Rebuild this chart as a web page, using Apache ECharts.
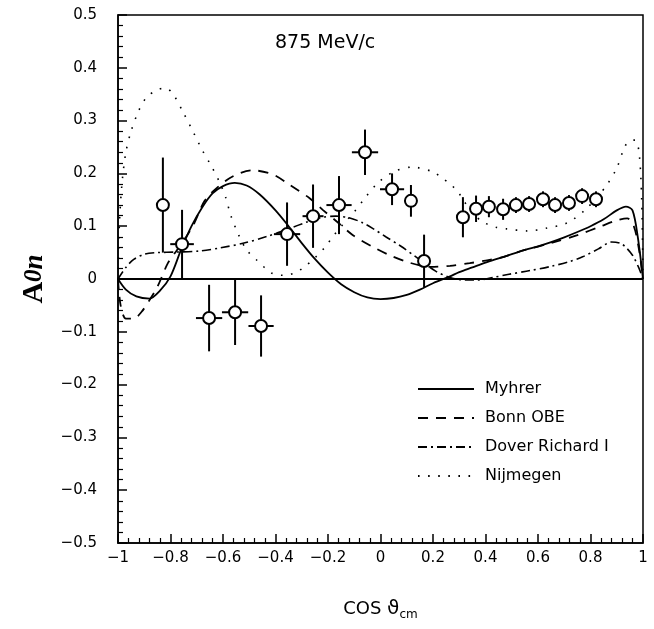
<!DOCTYPE html>
<html><head><meta charset="utf-8">
<script src="https://cdn.jsdelivr.net/npm/echarts@6/dist/echarts.min.js"></script>
<style>html,body{margin:0;padding:0;background:#fff}#c{width:654px;height:629px}</style>
</head><body><div id="c"></div>
<script>
// Measured data points
const dataX    = [-0.829,-0.756,-0.653,-0.554,-0.455,-0.356,-0.257,-0.158,-0.059,0.044,0.116,0.166,0.314,0.364,0.413,0.467,0.516,0.566,0.619,0.665,0.718,0.768,0.821];
const dataY    = [0.140,0.066,-0.074,-0.063,-0.089,0.085,0.119,0.140,0.240,0.170,0.148,0.034,0.117,0.133,0.137,0.132,0.140,0.142,0.151,0.140,0.144,0.157,0.151];
const dataYErr = [0.090,0.065,0.063,0.062,0.058,0.060,0.060,0.055,0.043,0.030,0.030,0.050,0.038,0.025,0.020,0.020,0.015,0.015,0.015,0.015,0.015,0.015,0.015];
const dataXErr = [0,0.045,0.05,0.05,0.048,0.05,0.04,0.048,0.05,0.046,0,0,0,0,0,0,0,0,0,0,0,0,0];

// Theory curves
const myhrerX = [-1,-0.97,-0.93,-0.88,-0.84,-0.80,-0.76,-0.72,-0.68,-0.64,-0.60,-0.555,-0.51,-0.46,-0.40,-0.35,-0.30,-0.25,-0.20,-0.15,-0.10,-0.05,0.0,0.05,0.10,0.15,0.20,0.265,0.30,0.35,0.40,0.45,0.50,0.55,0.60,0.65,0.70,0.75,0.80,0.85,0.90,0.935,0.96,0.98,1.0];
const myhrerY = [0.0,-0.02,-0.033,-0.037,-0.022,0.005,0.055,0.100,0.135,0.162,0.176,0.182,0.177,0.160,0.130,0.100,0.068,0.038,0.012,-0.010,-0.025,-0.035,-0.038,-0.036,-0.030,-0.020,-0.008,0.005,0.013,0.022,0.031,0.039,0.047,0.055,0.062,0.070,0.079,0.089,0.100,0.113,0.130,0.137,0.130,0.080,0.0];

const bonnX = [-1,-0.99,-0.97,-0.94,-0.91,-0.88,-0.85,-0.81,-0.775,-0.74,-0.71,-0.67,-0.62,-0.56,-0.49,-0.41,-0.345,-0.27,-0.22,-0.16,-0.105,-0.03,0.035,0.11,0.19,0.265,0.34,0.40,0.455,0.55,0.65,0.75,0.84,0.90,0.94,0.965,0.985,1.0];
const bonnY = [0.0,-0.05,-0.075,-0.075,-0.062,-0.040,-0.015,0.030,0.055,0.080,0.105,0.148,0.174,0.195,0.206,0.198,0.178,0.153,0.131,0.106,0.083,0.061,0.045,0.031,0.023,0.025,0.030,0.035,0.040,0.055,0.068,0.083,0.100,0.111,0.115,0.100,0.055,0.0];

const doverX = [-1,-0.97,-0.94,-0.90,-0.85,-0.78,-0.69,-0.61,-0.52,-0.43,-0.35,-0.28,-0.22,-0.17,-0.12,-0.07,-0.03,0.02,0.075,0.14,0.21,0.265,0.32,0.37,0.43,0.49,0.57,0.65,0.72,0.77,0.83,0.88,0.92,0.96,0.985,1.0];
const doverY = [0.0,0.022,0.037,0.047,0.050,0.051,0.053,0.059,0.068,0.081,0.095,0.108,0.117,0.119,0.116,0.107,0.096,0.080,0.063,0.040,0.015,0.003,-0.002,-0.002,0.003,0.009,0.016,0.024,0.033,0.042,0.057,0.070,0.066,0.045,0.020,0.0];

const nijX = [-1,-0.995,-0.985,-0.97,-0.95,-0.92,-0.89,-0.85,-0.82,-0.79,-0.75,-0.71,-0.68,-0.64,-0.61,-0.59,-0.57,-0.54,-0.51,-0.47,-0.44,-0.41,-0.37,-0.33,-0.295,-0.25,-0.21,-0.185,-0.14,-0.10,-0.06,-0.01,0.05,0.12,0.20,0.235,0.265,0.295,0.315,0.35,0.39,0.44,0.48,0.56,0.63,0.71,0.78,0.83,0.865,0.90,0.93,0.95,0.97,0.985,0.995,1.0];
const nijY = [0.0,0.10,0.18,0.24,0.28,0.32,0.345,0.358,0.362,0.350,0.314,0.275,0.245,0.210,0.180,0.155,0.120,0.083,0.055,0.035,0.021,0.010,0.007,0.011,0.021,0.040,0.061,0.078,0.105,0.127,0.153,0.182,0.203,0.212,0.203,0.191,0.180,0.165,0.150,0.125,0.108,0.098,0.095,0.091,0.096,0.106,0.131,0.158,0.180,0.210,0.250,0.262,0.263,0.240,0.150,0.0];

const seriesNames = ['Myhrer','Bonn OBE','Dover Richard I','Nijmegen'];
const xTickLabels = ['-1','-0.8','-0.6','-0.4','-0.2','0','0.2','0.4','0.6','0.8','1'];

const FONT = 'DejaVu Sans';
const zip = (a,b) => a.map((v,i)=>[v,b[i]]);
const fmt = v => { const r = +(+v).toFixed(2); return r < 0 ? '\u2212' + Math.abs(r) : String(r); };

const chart = echarts.init(document.getElementById('c'), null, {renderer:'canvas'});
const curveStyle = (type, w) => ({color:'#000', width:w, type:type});
chart.setOption({
  animation:false,
  backgroundColor:'#fff',
  title:{text:'875 MeV/c', left:270, top:29, textStyle:{fontFamily:FONT, fontSize:19, fontWeight:'normal', color:'#000'}},
  legend:{
    orient:'vertical', left:412, top:376, itemWidth:56, itemHeight:14, itemGap:13,
    data:seriesNames,
    itemStyle:{color:'transparent', borderWidth:0, opacity:0},
    textStyle:{fontFamily:FONT, fontSize:16, color:'#000', padding:[0,0,0,6]}
  },
  grid:{left:118, right:11, top:15, bottom:86, show:true, borderColor:'#000', borderWidth:1.5, backgroundColor:'transparent'},
  xAxis:{
    type:'value', min:-1, max:1, interval:0.2,
    axisLine:{onZero:false, lineStyle:{color:'#000', width:1.5}},
    axisTick:{inside:true, length:9, lineStyle:{color:'#000', width:1.5}},
    minorTick:{show:true, splitNumber:5, length:5, lineStyle:{color:'#000', width:1.2}},
    splitLine:{show:false},
    axisLabel:{margin:8, fontFamily:FONT, fontSize:15, color:'#000', formatter:(v)=>fmt(v)},
    name:'{a|COS }{b|\u03D1}{c|cm}', nameLocation:'middle', nameGap:54,
    nameTextStyle:{rich:{
      a:{fontFamily:FONT, fontSize:18, color:'#000'},
      b:{fontFamily:FONT, fontSize:20, color:'#000'},
      c:{fontFamily:FONT, fontSize:12, color:'#000', padding:[12,0,0,0]}
    }}
  },
  yAxis:{
    type:'value', min:-0.5, max:0.5, interval:0.1,
    axisLine:{onZero:false, lineStyle:{color:'#000', width:1.5}},
    axisTick:{inside:true, length:9, lineStyle:{color:'#000', width:1.5}},
    minorTick:{show:true, splitNumber:5, length:5, lineStyle:{color:'#000', width:1.2}},
    splitLine:{show:false},
    axisLabel:{margin:21, fontFamily:FONT, fontSize:15, color:'#000', formatter:(v)=>fmt(v)},
    name:'{a|A}{b|0}{c|n}', nameLocation:'middle', nameGap:66, nameRotate:90,
    nameTextStyle:{rich:{
      a:{fontFamily:'Liberation Serif', fontSize:30, fontWeight:'bold', color:'#000'},
      b:{fontFamily:'Liberation Serif', fontSize:25, fontWeight:'bold', fontStyle:'italic', color:'#000'},
      c:{fontFamily:'Liberation Serif', fontSize:27, fontWeight:'bold', fontStyle:'italic', color:'#000'}
    }}
  },
  series:[
    {name:'Myhrer', type:'line', data:zip(myhrerX,myhrerY), symbol:'none', smooth:0.3, lineStyle:curveStyle('solid',1.8), itemStyle:{color:'#000'}, z:3,
     markLine:{silent:true, symbol:'none', label:{show:false}, lineStyle:{color:'#000', width:2, type:'solid'}, data:[{yAxis:0}]}},
    {name:'Bonn OBE', type:'line', data:zip(bonnX,bonnY), symbol:'none', smooth:0.3, lineStyle:curveStyle([10,8],1.8), itemStyle:{color:'#000'}, z:3},
    {name:'Dover Richard I', type:'line', data:zip(doverX,doverY), symbol:'none', smooth:0.3, lineStyle:curveStyle([9,4,2,4],1.6), itemStyle:{color:'#000'}, z:3},
    {name:'Nijmegen', type:'line', data:zip(nijX,nijY), symbol:'none', smooth:0.3, lineStyle:curveStyle([1.6,8.5],1.6), itemStyle:{color:'#000'}, z:3},
    {type:'custom', z:5, silent:true,
     data:dataX.map((x,i)=>[x,dataY[i],dataYErr[i],dataXErr[i]]),
     renderItem:function(params, api){
       const x=api.value(0), y=api.value(1), ey=api.value(2), ex=api.value(3);
       const t=api.coord([x,y+ey]), b=api.coord([x,y-ey]);
       const ch=[{type:'line', shape:{x1:t[0],y1:t[1],x2:b[0],y2:b[1]}, style:{stroke:'#000', lineWidth:2}}];
       if(ex>0){const l=api.coord([x-ex,y]), r=api.coord([x+ex,y]);
         ch.push({type:'line', shape:{x1:l[0],y1:l[1],x2:r[0],y2:r[1]}, style:{stroke:'#000', lineWidth:2}});}
       return {type:'group', children:ch};
     }},
    {type:'scatter', z:6, silent:true, data:zip(dataX,dataY), symbol:'circle', symbolSize:12,
     itemStyle:{color:'#fff', borderColor:'#000', borderWidth:2, opacity:1}}
  ]
});
</script></body></html>
